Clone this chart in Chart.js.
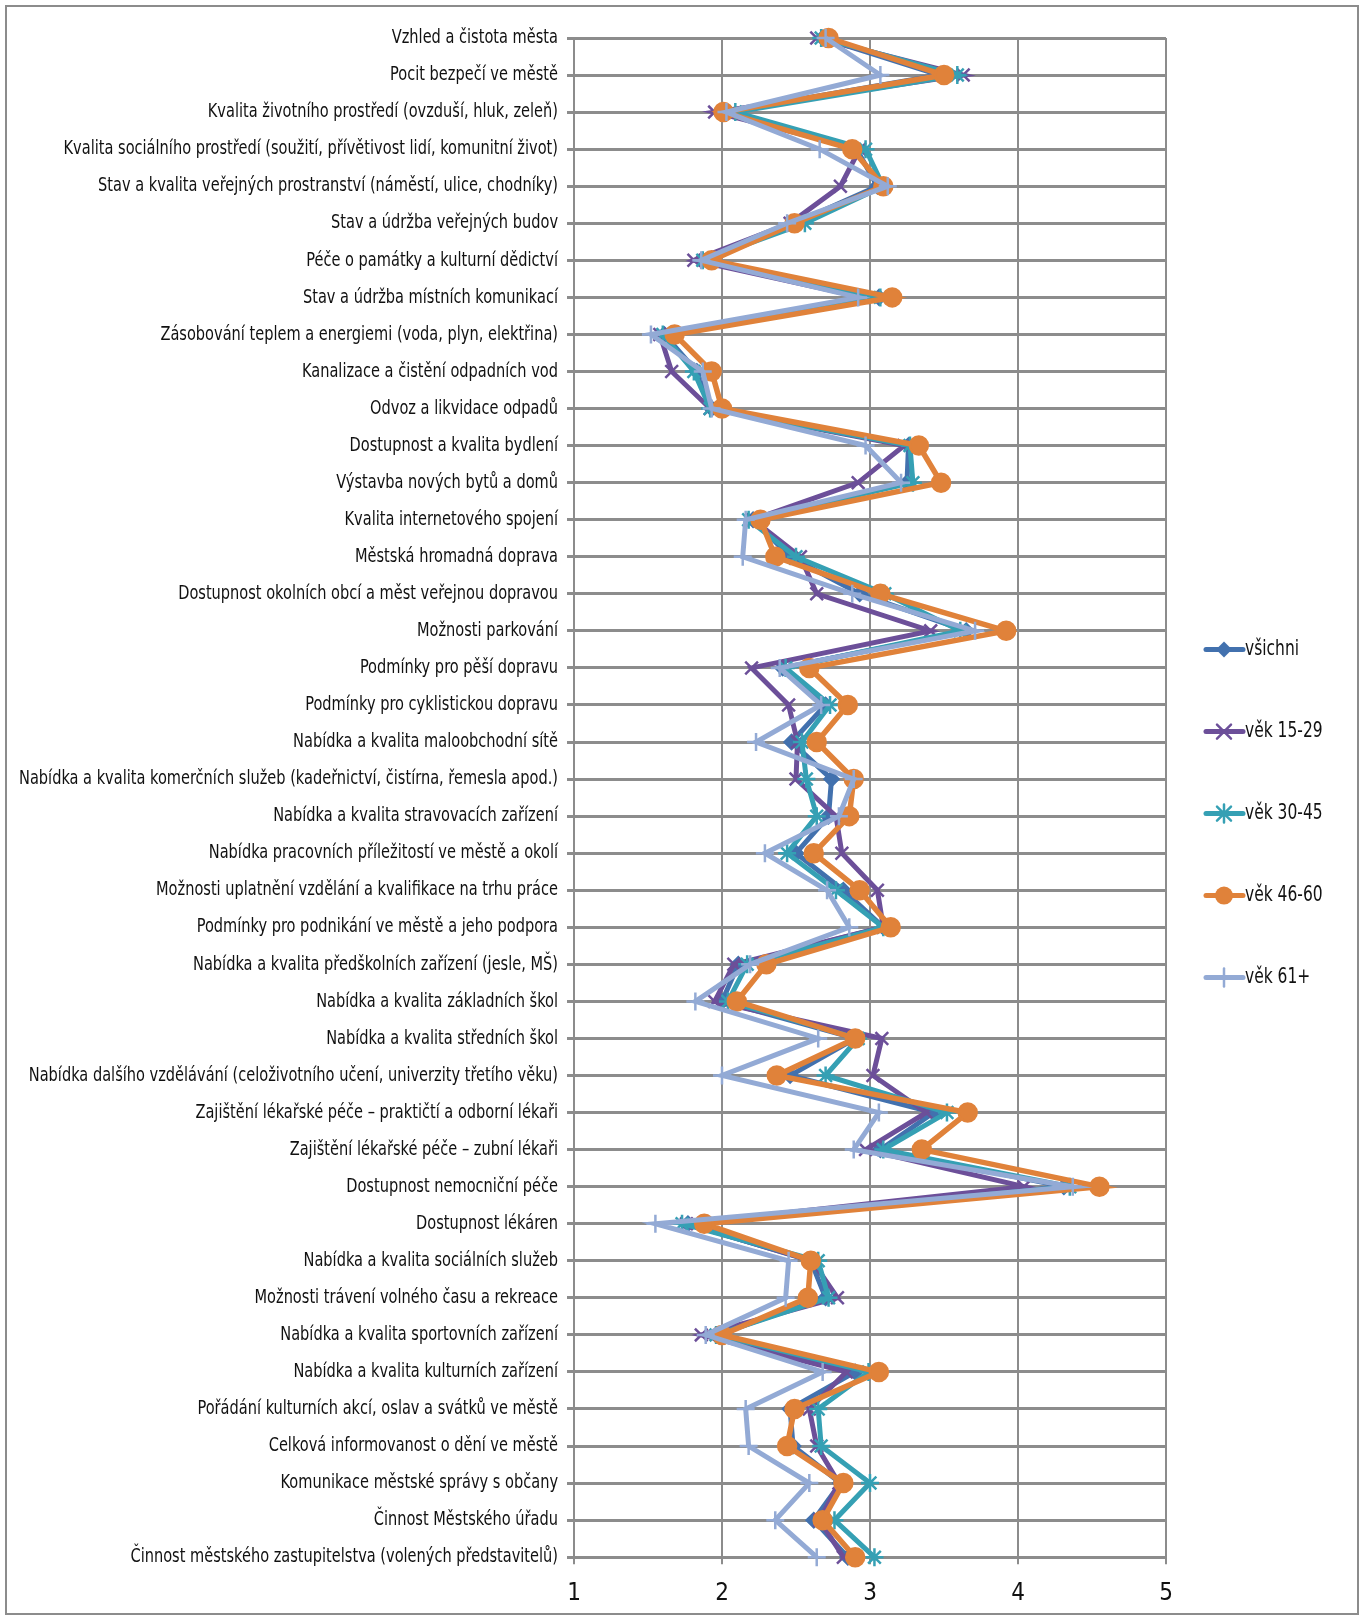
<!DOCTYPE html>
<html>
<head>
<meta charset="utf-8">
<script src="https://cdn.jsdelivr.net/npm/chart.js@4.4.1/dist/chart.umd.min.js"></script>
<style>
  html, body { margin: 0; padding: 0; background: #fff; }
  #wrap { position: relative; width: 1364px; height: 1619px; }
  #frame { position: absolute; left: 5px; top: 5px; width: 1350px; height: 1606px; border: 2px solid #8c8c8c; pointer-events: none; }
  canvas { position: absolute; left: 0; top: 0; }
</style>
</head>
<body>
<div id="wrap">
  <canvas id="lineChart" width="1364" height="1619"></canvas>
  <div id="frame"></div>
</div>
<script>
var categories = [
  "Vzhled a čistota města",
  "Pocit bezpečí ve městě",
  "Kvalita životního prostředí (ovzduší, hluk, zeleň)",
  "Kvalita sociálního prostředí (soužití, přívětivost lidí, komunitní život)",
  "Stav a kvalita veřejných prostranství (náměstí, ulice, chodníky)",
  "Stav a údržba veřejných budov",
  "Péče o památky a kulturní dědictví",
  "Stav a údržba místních komunikací",
  "Zásobování teplem a energiemi (voda, plyn, elektřina)",
  "Kanalizace a čistění odpadních vod",
  "Odvoz a likvidace odpadů",
  "Dostupnost a kvalita bydlení",
  "Výstavba nových bytů a domů",
  "Kvalita internetového spojení",
  "Městská hromadná doprava",
  "Dostupnost okolních obcí a měst veřejnou dopravou",
  "Možnosti parkování",
  "Podmínky pro pěší dopravu",
  "Podmínky pro cyklistickou dopravu",
  "Nabídka a kvalita maloobchodní sítě",
  "Nabídka a kvalita komerčních služeb (kadeřnictví, čistírna, řemesla apod.)",
  "Nabídka a kvalita stravovacích zařízení",
  "Nabídka pracovních příležitostí ve městě a okolí",
  "Možnosti uplatnění vzdělání a kvalifikace na trhu práce",
  "Podmínky pro podnikání ve městě a jeho podpora",
  "Nabídka a kvalita předškolních zařízení (jesle, MŠ)",
  "Nabídka a kvalita základních škol",
  "Nabídka a kvalita středních škol",
  "Nabídka dalšího vzdělávání (celoživotního učení, univerzity třetího věku)",
  "Zajištění lékařské péče – praktičtí a odborní lékaři",
  "Zajištění lékařské péče – zubní lékaři",
  "Dostupnost nemocniční péče",
  "Dostupnost lékáren",
  "Nabídka a kvalita sociálních služeb",
  "Možnosti trávení volného času a rekreace",
  "Nabídka a kvalita sportovních zařízení",
  "Nabídka a kvalita kulturních zařízení",
  "Pořádání kulturních akcí, oslav a svátků ve městě",
  "Celková informovanost o dění ve městě",
  "Komunikace městské správy s občany",
  "Činnost Městského úřadu",
  "Činnost městského zastupitelstva (volených představitelů)"
];

var seriesNames = ["všichni", "věk 15-29", "věk 30-45", "věk 46-60", "věk 61+"];

var vsichni = [2.68, 3.47, 2.02, 2.91, 3.05, 2.49, 1.87, 3.06, 1.61, 1.83, 1.93, 3.26, 3.25, 2.21, 2.46, 2.93, 3.65, 2.41, 2.70, 2.47, 2.74,
               2.72, 2.50, 2.82, 3.09, 2.11, 2.00, 2.90, 2.46, 3.43, 3.07, 4.31, 1.77, 2.60, 2.70, 1.96, 2.90, 2.46, 2.48, 2.80, 2.62, 2.85];
var vek15_29 = [2.64, 3.63, 1.95, 2.93, 2.80, 2.46, 1.81, 2.95, 1.58, 1.66, 1.92, 3.23, 2.92, 2.21, 2.53, 2.64, 3.41, 2.20, 2.45, 2.51, 2.50,
               2.77, 2.81, 3.05, 3.09, 2.08, 1.95, 3.08, 3.02, 3.38, 2.97, 4.04, 1.76, 2.61, 2.78, 1.86, 2.84, 2.59, 2.64, 2.79, 2.66, 2.82];
var vek30_45 = [2.67, 3.59, 2.09, 2.97, 3.09, 2.56, 1.87, 3.07, 1.60, 1.81, 1.92, 3.27, 3.29, 2.18, 2.50, 3.10, 3.61, 2.43, 2.73, 2.54, 2.57,
               2.64, 2.44, 2.77, 3.09, 2.17, 2.04, 2.92, 2.70, 3.52, 3.09, 4.35, 1.73, 2.65, 2.72, 1.96, 2.99, 2.65, 2.67, 3.00, 2.76, 3.03];
var vek46_60 = [2.72, 3.50, 2.01, 2.88, 3.09, 2.49, 1.93, 3.15, 1.68, 1.93, 2.00, 3.33, 3.48, 2.26, 2.36, 3.07, 3.92, 2.59, 2.85, 2.64, 2.89,
               2.86, 2.62, 2.93, 3.14, 2.30, 2.10, 2.90, 2.37, 3.66, 3.35, 4.55, 1.88, 2.60, 2.58, 2.00, 3.06, 2.49, 2.44, 2.82, 2.68, 2.90];
var vek61 = [2.70, 3.07, 2.03, 2.66, 3.12, 2.44, 1.86, 2.92, 1.52, 1.87, 1.93, 2.97, 3.21, 2.16, 2.14, 2.88, 3.71, 2.39, 2.67, 2.23, 2.89,
               2.79, 2.29, 2.71, 2.86, 2.19, 1.82, 2.65, 2.00, 3.06, 2.89, 4.37, 1.55, 2.45, 2.43, 1.89, 2.68, 2.16, 2.18, 2.59, 2.36, 2.64];

var xTicks = [1, 2, 3, 4, 5];

var colors = ["#4271ae", "#6c4f99", "#35a0b4", "#e0823a", "#93aad5"];
var markers = ["rectRot", "crossRot", "star", "circle", "cross"];
var values = [vsichni, vek15_29, vek30_45, vek46_60, vek61];

var FONT = "'DejaVu Sans Condensed', 'DejaVu Sans', sans-serif";
Chart.defaults.font.family = FONT;
Chart.defaults.color = "#111";

// text squeezed sideways, the original labels use a narrow font
function narrowText(ctx, text, x, y, size, squeeze, align) {
    ctx.save();
    ctx.font = size + "px " + FONT;
    ctx.fillStyle = "#111";
    ctx.textAlign = align;
    ctx.textBaseline = "middle";
    ctx.translate(x, y);
    ctx.scale(squeeze, 1);
    ctx.fillText(text, 0, 0);
    ctx.restore();
}

function drawMarker(ctx, marker, color, cx, cy) {
    ctx.strokeStyle = color;
    ctx.fillStyle = color;
    ctx.lineWidth = 2.5;
    var r = 9;
    if (marker === 'rectRot') {
        ctx.beginPath(); ctx.moveTo(cx, cy - 8); ctx.lineTo(cx + 8, cy); ctx.lineTo(cx, cy + 8); ctx.lineTo(cx - 8, cy); ctx.closePath(); ctx.fill();
    } else if (marker === 'circle') {
        ctx.beginPath(); ctx.arc(cx, cy, r, 0, Math.PI * 2); ctx.fill();
    } else {
        ctx.beginPath();
        if (marker === 'crossRot' || marker === 'star') {
            ctx.moveTo(cx - 7, cy - 7); ctx.lineTo(cx + 7, cy + 7);
            ctx.moveTo(cx + 7, cy - 7); ctx.lineTo(cx - 7, cy + 7);
        }
        if (marker === 'star' || marker === 'cross') {
            ctx.moveTo(cx, cy - r); ctx.lineTo(cx, cy + r);
        }
        ctx.stroke();
    }
}

var labelsAndLegend = {
    id: 'labelsAndLegend',
    afterDraw: function(chart) {
        var ctx = chart.ctx;
        var yScale = chart.scales.y;
        var area = chart.chartArea;
        // category labels
        categories.forEach(function(name, i) {
            narrowText(ctx, name, yScale.right - 16, yScale.getPixelForValue(i), 20, 0.81, 'right');
        });
        // legend: line with marker, then the name
        var mid = (area.top + area.bottom) / 2 + 16;
        seriesNames.forEach(function(name, i) {
            var y = mid + (i - 2) * 82;
            var x0 = area.right + 40;
            ctx.save();
            ctx.strokeStyle = colors[i];
            ctx.lineWidth = 5;
            ctx.lineCap = 'round';
            ctx.beginPath(); ctx.moveTo(x0, y); ctx.lineTo(x0 + 37, y); ctx.stroke();
            drawMarker(ctx, markers[i], colors[i], x0 + 18, y);
            ctx.restore();
            narrowText(ctx, name, x0 + 39, y, 21, 0.82, 'left');
        });
    }
};

var datasets = seriesNames.map(function(name, i) {
    return {
        label: name,
        data: values[i],
        borderColor: colors[i],
        backgroundColor: colors[i],
        borderWidth: i === 3 ? 5.5 : 5,
        pointStyle: markers[i],
        pointRadius: i === 0 ? 7 : 9,
        pointBorderWidth: 2.5,
        pointBackgroundColor: colors[i],
        pointBorderColor: colors[i],
        tension: 0,
        order: 5 - i
    };
});

var ctxL = document.getElementById("lineChart").getContext('2d');
var myLineChart = new Chart(ctxL, {
    type: 'line',
    data: {
        labels: categories,
        datasets: datasets
    },
    options: {
        indexAxis: 'y',
        responsive: false,
        animation: false,
        layout: { padding: { left: 10, top: 38, right: 198, bottom: -4 } },
        scales: {
            x: {
                type: 'linear',
                position: 'bottom',
                min: 1,
                max: 5,
                afterBuildTicks: function(scale) {
                    scale.ticks = xTicks.map(function(v) { return { value: v }; });
                },
                grid: { color: '#8c8c8c', lineWidth: 2, tickLength: 7 },
                border: { color: '#8c8c8c', width: 2 },
                ticks: { font: { size: 24 }, padding: 15, color: '#111' }
            },
            y: {
                type: 'category',
                offset: false,
                afterFit: function(scale) { scale.width = 564; },
                grid: { color: '#8c8c8c', lineWidth: 3, tickLength: 7 },
                border: { color: '#8c8c8c', width: 2 },
                ticks: { display: false, autoSkip: false }
            }
        },
        plugins: {
            tooltip: { enabled: false },
            legend: { display: false }
        }
    },
    plugins: [labelsAndLegend]
});
</script>
</body>
</html>
